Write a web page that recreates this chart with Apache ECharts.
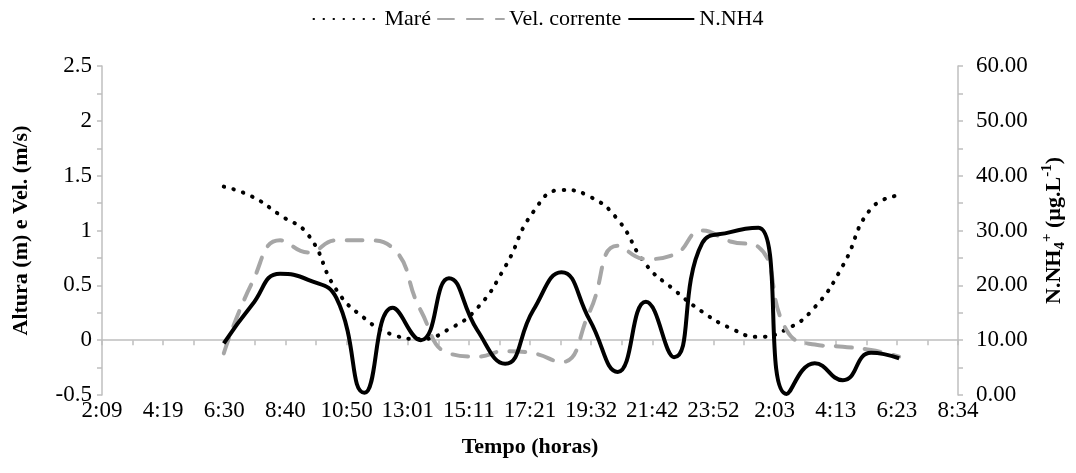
<!DOCTYPE html>
<html>
<head>
<meta charset="utf-8">
<script src="https://cdn.jsdelivr.net/npm/echarts@6/dist/echarts.min.js"></script>
<style>
html,body{margin:0;padding:0;background:#fff;}
#chart{width:1076px;height:473px;}
</style>
</head>
<body>
<div id="chart"></div>
<script>
// ---- data ----
const tickLabels = ["2:09","4:19","6:30","8:40","10:50","13:01","15:11","17:21","19:32","21:42","23:52","2:03","4:13","6:23","8:34"];
const sampleTimes = ["6:30","7:30","8:30","9:30","10:30","11:30","12:30","13:30","14:30","15:30","16:30","17:30","18:30","19:30","20:30","21:30","22:30","23:30","0:30","1:30","2:30","3:30","4:30","5:30","6:30"];
const mare = [1.40,1.31,1.14,0.96,0.46,0.20,0.05,0.01,0.10,0.29,0.67,1.17,1.37,1.31,1.10,0.69,0.46,0.26,0.11,0.03,0.10,0.30,0.68,1.20,1.32];
const velCorrente = [-0.12,0.52,0.91,0.80,0.91,0.91,0.84,0.27,-0.12,-0.15,-0.10,-0.12,-0.20,0.26,0.86,0.74,0.78,1.00,0.90,0.85,0.09,-0.04,-0.06,-0.09,-0.15];
const nnh4 = [9.4,16.4,22.1,21.0,17.7,0.4,15.9,10.0,21.3,11.9,5.7,15.5,22.4,13.7,4.2,17.0,6.9,27.7,29.7,30.5,0.2,5.8,2.7,7.7,6.7];

// axis tick unit: 130.36 minutes (spacing of the time labels)
const TICK_MIN = 130.36;
function toAxis(list){
  let dayOffset = 0, prev = -1;
  return list.map(s => {
    const [h, m] = s.split(":").map(Number);
    let mins = h * 60 + m;
    if (prev >= 0 && mins + dayOffset < prev) dayOffset += 1440;
    mins += dayOffset;
    prev = mins;
    return mins / TICK_MIN;
  });
}
const xs = toAxis(sampleTimes);
const pair = (vals) => vals.map((v, i) => [xs[i], v]);

const FONT = "'Liberation Serif','Times New Roman',serif";
const AX = '#bfbfbf';
const TICKFS = 23;

const chart = echarts.init(document.getElementById('chart'));
chart.setOption({
  animation: false,
  backgroundColor: '#fff',
  textStyle: {fontFamily: FONT, color: '#000'},
  legend: {
    top: 3, left: 'center',
    itemWidth: 66, itemHeight: 14, itemGap: 6,
    itemStyle: {opacity: 0},
    textStyle: {fontFamily: FONT, fontSize: 22, color: '#000'},
    data: ['Maré', 'Vel. corrente', 'N.NH4']
  },
  grid: {left: 102, right: 116, top: 66, bottom: 78, containLabel: false},
  xAxis: [
    {
      type: 'value', min: 1, max: 15, interval: 1, position: 'bottom',
      axisLine: {show: false, onZero: false},
      axisTick: {show: false},
      splitLine: {show: false},
      axisLabel: {
        margin: 4, fontFamily: FONT, fontSize: TICKFS, color: '#000',
        formatter: v => tickLabels[Math.round(v) - 1] || ''
      },
      name: 'Tempo (horas)', nameLocation: 'middle', nameGap: 41,
      nameTextStyle: {fontFamily: FONT, fontSize: 22, fontWeight: 'bold', color: '#000'}
    },
    {
      type: 'value', min: 1, max: 15, interval: 0.5, position: 'bottom',
      axisLine: {show: true, onZero: true, onZeroAxisIndex: 0, lineStyle: {color: AX, width: 1.5}},
      axisTick: {show: true, inside: false, length: 5, lineStyle: {color: AX, width: 1.5}},
      axisLabel: {show: false},
      splitLine: {show: false}
    }
  ],
  yAxis: [
    {
      type: 'value', min: -0.5, max: 2.5, interval: 0.5, position: 'left',
      axisLine: {show: true, lineStyle: {color: AX, width: 1.5}},
      axisTick: {show: true, length: 5, lineStyle: {color: AX, width: 1.5}},
      minorTick: {show: true, splitNumber: 2, length: 5, lineStyle: {color: AX, width: 1.5}},
      splitLine: {show: false},
      axisLabel: {margin: 10, fontFamily: FONT, fontSize: TICKFS, color: '#000'},
      name: 'Altura (m) e Vel. (m/s)', nameLocation: 'middle', nameGap: 70, nameRotate: 90,
      nameTextStyle: {fontFamily: FONT, fontSize: 22, fontWeight: 'bold', color: '#000'}
    },
    {
      type: 'value', min: 0, max: 60, interval: 10, position: 'right',
      axisLine: {show: true, lineStyle: {color: AX, width: 1.5}},
      axisTick: {show: true, length: 5, lineStyle: {color: AX, width: 1.5}},
      minorTick: {show: true, splitNumber: 2, length: 5, lineStyle: {color: AX, width: 1.5}},
      splitLine: {show: false},
      axisLabel: {margin: 18, fontFamily: FONT, fontSize: TICKFS, color: '#000', formatter: v => v.toFixed(2)},
      name: 'N.NH{sub|4}{sup|+} (µg.L{sup|-1})', nameLocation: 'middle', nameGap: 82, nameRotate: 90,
      nameTextStyle: {
        fontFamily: FONT, fontSize: 22, fontWeight: 'bold', color: '#000', lineHeight: 28,
        rich: {
          sub: {fontFamily: FONT, fontSize: 15, fontWeight: 'bold', color: '#000', verticalAlign: 'bottom', lineHeight: 15},
          sup: {fontFamily: FONT, fontSize: 15, fontWeight: 'bold', color: '#000', verticalAlign: 'top', lineHeight: 15}
        }
      }
    }
  ],
  series: [
    {
      name: 'Maré', type: 'line', xAxisIndex: 0, yAxisIndex: 0,
      data: pair(mare), smooth: 0.5, showSymbol: false, symbol: 'none',
      lineStyle: {color: '#000', width: 4, type: [0.5, 9.5], cap: 'round'},
      itemStyle: {color: '#000'}
    },
    {
      name: 'Vel. corrente', type: 'line', xAxisIndex: 0, yAxisIndex: 0,
      data: pair(velCorrente), smooth: 0.5, showSymbol: false, symbol: 'none',
      lineStyle: {color: '#a6a6a6', width: 4, type: [16, 13], cap: 'round'},
      itemStyle: {color: '#a6a6a6'}
    },
    {
      name: 'N.NH4', type: 'line', xAxisIndex: 0, yAxisIndex: 1,
      data: pair(nnh4), smooth: 0.5, showSymbol: false, symbol: 'none',
      lineStyle: {color: '#000', width: 4},
      itemStyle: {color: '#000'}
    }
  ]
});
</script>
</body>
</html>
